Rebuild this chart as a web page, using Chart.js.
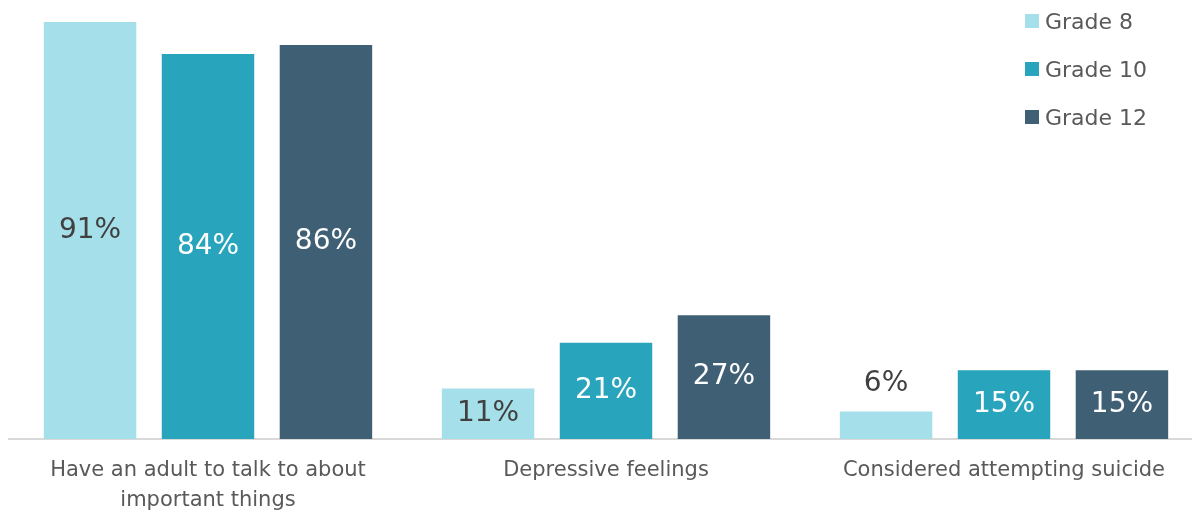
<!DOCTYPE html>
<html>
<head>
<meta charset="utf-8">
<script src="https://cdn.jsdelivr.net/npm/chart.js@4"></script>
<style>
  html, body { margin: 0; padding: 0; background: #fff; overflow: hidden; }
  #wrap { position: relative; width: 1204px; height: 513px; }
  #legend { position: absolute; left: 1025px; top: -3px; font-family: "DejaVu Sans", sans-serif; font-size: 22px; color: #595959; }
  #legend div { height: 48px; display: flex; align-items: center; }
  #legend span.box { display: inline-block; width: 14px; height: 14px; margin-right: 6px; }
</style>
</head>
<body>
<div id="wrap">
  <canvas id="chBar" width="1204" height="513"></canvas>
  <div id="legend"></div>
</div>
<script>
var categories = [['Have an adult to talk to about', 'important things'], 'Depressive feelings', 'Considered attempting suicide'];
var seriesNames = ['Grade 8', 'Grade 10', 'Grade 12'];
var grade8 = [91, 11, 6];
var grade10 = [84, 21, 15];
var grade12 = [86, 27, 15];
var colors = ['#a5e0ea', '#28a4bd', '#3f5f75'];
var labelColors = ['#404040', '#ffffff', '#ffffff'];

document.addEventListener("DOMContentLoaded", function () {
    var ctx = document.getElementById("chBar").getContext('2d');

    // draws the value labels inside the bars (or above, if the bar is too short)
    var valueLabels = {
        id: 'valueLabels',
        afterDatasetsDraw: function (chart) {
            var c = chart.ctx;
            c.save();
            c.font = '28px "DejaVu Sans", sans-serif';
            c.textAlign = 'center';
            c.textBaseline = 'middle';
            chart.data.datasets.forEach(function (ds, i) {
                var meta = chart.getDatasetMeta(i);
                meta.data.forEach(function (bar, j) {
                    var h = bar.base - bar.y;
                    var y, col;
                    if (h < 36) {
                        y = bar.y - 28;
                        col = '#404040';
                    } else {
                        y = (bar.y + bar.base) / 2;
                        col = labelColors[i];
                    }
                    c.fillStyle = col;
                    c.fillText(ds.data[j] + '%', bar.x, y);
                });
            });
            c.restore();
        }
    };

    var chart = new Chart(ctx, {
        type: 'bar',
        data: {
            labels: categories,
            datasets: [
                { label: seriesNames[0], data: grade8, backgroundColor: colors[0] },
                { label: seriesNames[1], data: grade10, backgroundColor: colors[1] },
                { label: seriesNames[2], data: grade12, backgroundColor: colors[2] }
            ]
        },
        options: {
            responsive: false,
            animation: false,
            layout: { padding: { top: 22, left: 9, right: 1, bottom: 0 } },
            categoryPercentage: 0.889,
            barPercentage: 0.784,
            plugins: {
                legend: { display: false },
                tooltip: { enabled: false }
            },
            scales: {
                x: {
                    grid: { display: false, drawTicks: false },
                    border: { color: '#d9d9d9', width: 2 },
                    ticks: {
                        color: '#595959',
                        font: { family: '"DejaVu Sans", sans-serif', size: 21, lineHeight: 1.45 },
                        padding: 16,
                        maxRotation: 0
                    },
                    afterFit: function (scale) { scale.height = 74; }
                },
                y: {
                    display: false,
                    min: 0,
                    max: 91
                }
            }
        },
        plugins: [valueLabels]
    });

    var legend = document.getElementById('legend');
    chart.data.datasets.forEach(function (ds) {
        var row = document.createElement('div');
        row.innerHTML = '<span class="box" style="background:' + ds.backgroundColor + '"></span>' + ds.label;
        legend.appendChild(row);
    });
});
</script>
</body>
</html>
